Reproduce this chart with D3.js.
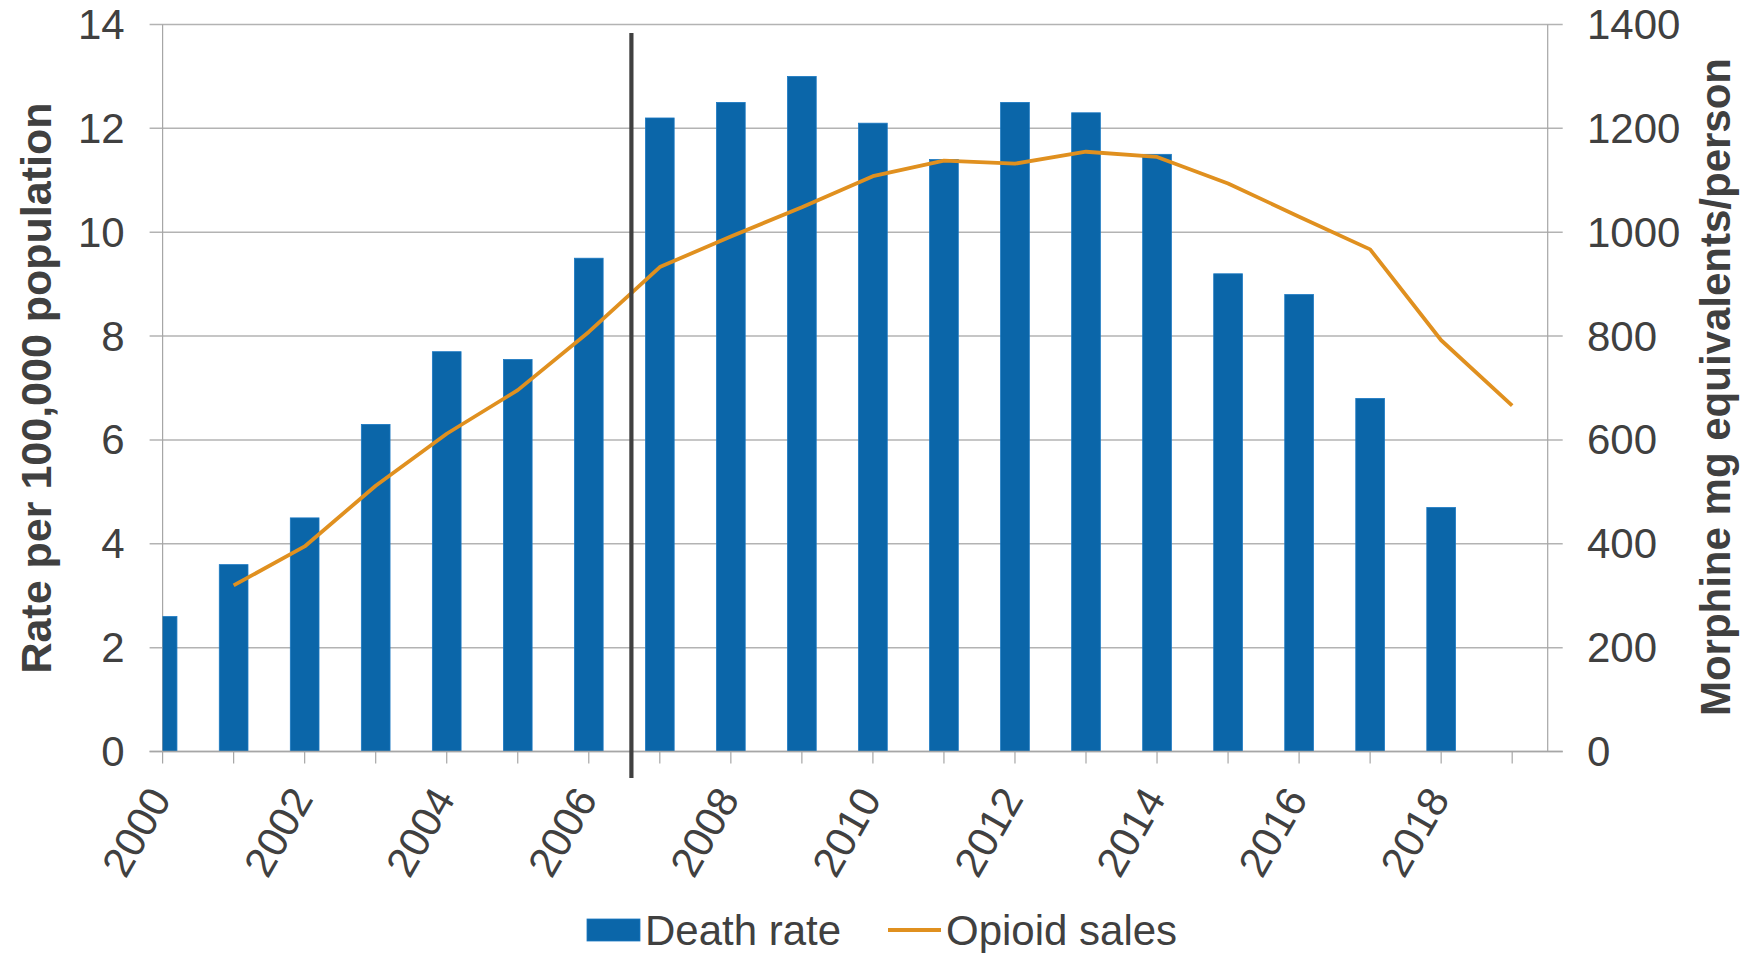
<!DOCTYPE html>
<html>
<head>
<meta charset="utf-8">
<script src="https://cdn.jsdelivr.net/npm/d3@7"></script>
<style>
  html, body { margin: 0; padding: 0; background: #ffffff; }
  svg { display: block; font-family: "Liberation Sans", Arial, sans-serif; }
</style>
</head>
<body>
<svg id="chart" width="1746" height="953"></svg>
<script>
// ---- data ----
const years = [2000, 2001, 2002, 2003, 2004, 2005, 2006, 2007, 2008, 2009, 2010,
               2011, 2012, 2013, 2014, 2015, 2016, 2017, 2018, 2019];
const deathRate = [2.6, 3.6, 4.5, 6.3, 7.7, 7.55, 9.5, 12.2, 12.5, 13.0, 12.1,
                   11.4, 12.5, 12.3, 11.5, 9.2, 8.8, 6.8, 4.7, null];
const opioidSales = [null, 320, 395, 512, 612, 696, 808, 933, 992, 1048, 1108,
                     1138, 1132, 1155, 1145, 1094, 1030, 967, 792, 666];
const leftTicks = [0, 2, 4, 6, 8, 10, 12, 14];
const rightTicks = [0, 200, 400, 600, 800, 1000, 1200, 1400];
const xLabelYears = [2000, 2002, 2004, 2006, 2008, 2010, 2012, 2014, 2016, 2018];
const markerYear = 2006.6;
const seriesNames = ["Death rate", "Opioid sales"];
const leftTitle = "Rate per 100,000 population";
const rightTitle = "Morphine mg equivalents/person";

// ---- layout ----
const L = 162.6, R = 1547.7, T = 24.5, B = 751.6;
const svg = d3.select("#chart");
const textColor = "#404040";
const barColor = "#0b66a9";
const lineColor = "#e0901f";

const x = d3.scaleLinear().domain([2000, 2019.5]).range([L, R]);
const yL = d3.scaleLinear().domain([0, 14]).range([B, T]);
const yR = d3.scaleLinear().domain([0, 1400]).range([B, T]);
const barW = 28.7;

// clip for plot area
svg.append("defs").append("clipPath").attr("id", "plotclip")
  .append("rect").attr("x", L).attr("y", 0).attr("width", R - L).attr("height", B + 1);

// gridlines (extend outside axes as tick marks)
svg.append("g").selectAll("line").data(leftTicks).join("line")
  .attr("x1", L - 13).attr("x2", R + 15)
  .attr("y1", d => yL(d)).attr("y2", d => yL(d))
  .attr("stroke", "#b3b3b3").attr("stroke-width", 1.5);

// axis lines
svg.append("line").attr("x1", L).attr("x2", L).attr("y1", T).attr("y2", B)
  .attr("stroke", "#a6a6a6").attr("stroke-width", 1.2);
svg.append("line").attr("x1", R).attr("x2", R).attr("y1", T).attr("y2", B)
  .attr("stroke", "#a6a6a6").attr("stroke-width", 1.2);

// bars
const barData = years.map((yr, i) => ({ yr, v: deathRate[i] })).filter(d => d.v != null);
svg.append("g").attr("clip-path", "url(#plotclip)").selectAll("rect").data(barData).join("rect")
  .attr("x", d => x(d.yr) - barW / 2)
  .attr("width", barW)
  .attr("y", d => yL(d.v))
  .attr("height", d => yL(0) - yL(d.v))
  .attr("fill", barColor)
  .attr("stroke", "#1a78c2").attr("stroke-width", 0.8);

// x axis line (bottom)
svg.append("line").attr("x1", L - 13).attr("x2", R + 15).attr("y1", B).attr("y2", B)
  .attr("stroke", "#a6a6a6").attr("stroke-width", 1.5);

// x ticks
svg.append("g").selectAll("line").data(years).join("line")
  .attr("x1", d => x(d)).attr("x2", d => x(d))
  .attr("y1", B).attr("y2", B + 12)
  .attr("stroke", "#a6a6a6").attr("stroke-width", 1.2);

// x labels
svg.append("g").selectAll("text").data(xLabelYears).join("text")
  .attr("transform", d => `translate(${x(d) - 3},${B + 40}) rotate(-60)`)
  .attr("text-anchor", "end")
  .attr("dominant-baseline", "central")
  .attr("font-size", 42)
  .attr("fill", textColor)
  .text(d => d);

// line series
const lineData = years.map((yr, i) => ({ yr, v: opioidSales[i] })).filter(d => d.v != null);
svg.append("path").datum(lineData)
  .attr("d", d3.line().x(d => x(d.yr)).y(d => yR(d.v)))
  .attr("fill", "none").attr("stroke", lineColor).attr("stroke-width", 3.8)
  .attr("stroke-linejoin", "round");

// vertical marker line
svg.append("line")
  .attr("x1", x(markerYear)).attr("x2", x(markerYear))
  .attr("y1", 33).attr("y2", 778)
  .attr("stroke", "#404040").attr("stroke-width", 4.2);

// left tick labels
svg.append("g").selectAll("text").data(leftTicks).join("text")
  .attr("x", 124.7).attr("y", d => yL(d))
  .attr("text-anchor", "end").attr("dominant-baseline", "central")
  .attr("font-size", 42).attr("fill", textColor)
  .text(d => d);

// right tick labels
svg.append("g").selectAll("text").data(rightTicks).join("text")
  .attr("x", 1587).attr("y", d => yR(d))
  .attr("text-anchor", "start").attr("dominant-baseline", "central")
  .attr("font-size", 42).attr("fill", textColor)
  .text(d => d);

// axis titles
svg.append("text")
  .attr("transform", `translate(36,${(T + B) / 2}) rotate(-90)`)
  .attr("text-anchor", "middle").attr("dominant-baseline", "central")
  .attr("font-size", 43).attr("font-weight", "bold").attr("fill", textColor)
  .text(leftTitle);
svg.append("text")
  .attr("transform", `translate(1715,${(T + B) / 2 - 1}) rotate(-90)`)
  .attr("text-anchor", "middle").attr("dominant-baseline", "central")
  .attr("font-size", 42).attr("font-weight", "bold").attr("fill", textColor)
  .text(rightTitle);

// legend
const lg = svg.append("g");
lg.append("rect").attr("x", 587).attr("y", 919).attr("width", 53).attr("height", 22)
  .attr("fill", barColor).attr("stroke", "#1a78c2").attr("stroke-width", 0.8);
lg.append("text").attr("x", 645).attr("y", 930).attr("dominant-baseline", "central")
  .attr("font-size", 42).attr("fill", textColor).text(seriesNames[0]);
lg.append("line").attr("x1", 888).attr("x2", 941).attr("y1", 930).attr("y2", 930)
  .attr("stroke", lineColor).attr("stroke-width", 3.8);
lg.append("text").attr("x", 946).attr("y", 930).attr("dominant-baseline", "central")
  .attr("font-size", 42).attr("fill", textColor).text(seriesNames[1]);
</script>
</body>
</html>
